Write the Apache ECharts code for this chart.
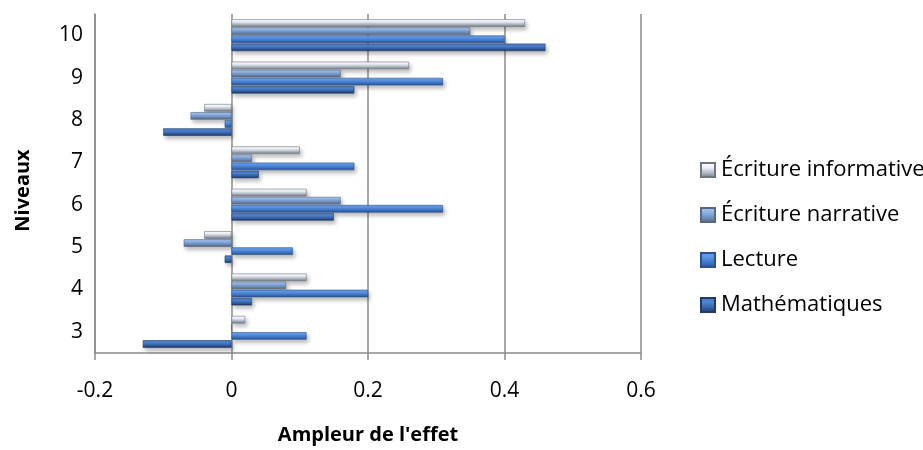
<!DOCTYPE html>
<html>
<head>
<meta charset="utf-8">
<script src="https://cdn.jsdelivr.net/npm/echarts@6/dist/echarts.min.js"></script>
<style>html,body{margin:0;padding:0;background:#fff;}#c{width:923px;height:450px;}</style>
</head>
<body>
<div id="c"></div>
<script>
var categories = ['3', '4', '5', '6', '7', '8', '9', '10'];
var mathematiques = [-0.13, 0.03, -0.01, 0.15, 0.04, -0.10, 0.18, 0.46];
var lecture = [0.11, 0.20, 0.09, 0.31, 0.18, -0.01, 0.31, 0.40];
var narrative = [0, 0.08, -0.07, 0.16, 0.03, -0.06, 0.16, 0.35];
var informative = [0.02, 0.11, -0.04, 0.11, 0.10, -0.04, 0.26, 0.43];
var xTicks = [-0.2, 0, 0.2, 0.4, 0.6];

var chart = echarts.init(document.getElementById('c'));
function grad(stops) {
  return new echarts.graphic.LinearGradient(0, 0, 0, 1, stops.map(function (c, i) {
    return { offset: i / (stops.length - 1), color: c };
  }));
}
var styles = {
  'Mathématiques': { c: grad(['#4a78bd', '#4f84d2', '#3563a8', '#1d3563']), b: '#1f3a68' },
  'Lecture': { c: grad(['#6aa2ee', '#5a95e6', '#3f76c6', '#27508f']), b: '#2a518f' },
  'Écriture narrative': { c: grad(['#a9c6ef', '#8fb3e6', '#6f8fba', '#55657c']), b: '#56677f' },
  'Écriture informative': { c: grad(['#ffffff', '#eef3fa', '#b4bcc8', '#6f7782']), b: '#6f7782' }
};
function mk(name, data) {
  return {
    name: name, type: 'bar', data: data, barWidth: 7.5, barGap: '8%',
    itemStyle: {
      color: styles[name].c, borderColor: styles[name].b, borderWidth: 0.6,
      shadowBlur: 4, shadowOffsetX: 2, shadowOffsetY: 3, shadowColor: 'rgba(0,0,0,0.28)'
    }
  };
}
chart.setOption({
  animation: false,
  textStyle: { fontFamily: 'Open Sans' },
  grid: { left: 95, right: 282, top: 14, bottom: 97, containLabel: false },
  legend: {
    orient: 'vertical', left: 695, top: 154, itemGap: 23,
    itemWidth: 14, itemHeight: 14, icon: 'rect',
    data: ['Écriture informative', 'Écriture narrative', 'Lecture', 'Mathématiques'],
    textStyle: { fontFamily: 'Open Sans', fontSize: 22, color: '#000', padding: [0, 0, 0, 1] }
  },
  xAxis: {
    type: 'value', min: -0.2, max: 0.6, interval: 0.2,
    name: "Ampleur de l'effet", nameLocation: 'middle', nameGap: 72,
    nameTextStyle: { fontFamily: 'Open Sans', fontWeight: 'bold', fontSize: 20, color: '#000' },
    axisLine: { show: true, lineStyle: { color: '#8c8c8c', width: 1.5 } },
    axisTick: { show: true, length: 7, lineStyle: { color: '#8c8c8c', width: 1.5 } },
    axisLabel: {
      margin: 28, fontSize: 21, color: '#000',
      formatter: function (v) { var r = Math.round(v * 10) / 10; return String(r); }
    },
    splitLine: { show: true, lineStyle: { color: '#8c8c8c', width: 1.5 } }
  },
  yAxis: {
    type: 'category', data: categories,
    name: 'Niveaux', nameLocation: 'middle', nameGap: 62, nameRotate: 90,
    nameTextStyle: { fontFamily: 'Open Sans', fontWeight: 'bold', fontSize: 20, color: '#000', padding: [0, 14, 0, 0] },
    axisLine: { show: true, onZero: false, lineStyle: { color: '#8c8c8c', width: 1.5 } },
    axisTick: { show: false },
    axisLabel: { margin: 12, fontSize: 21, color: '#000' },
    splitLine: { show: false }
  },
  series: [
    mk('Écriture informative', informative),
    mk('Écriture narrative', narrative),
    mk('Lecture', lecture),
    mk('Mathématiques', mathematiques)
  ]
});
</script>
</body>
</html>
